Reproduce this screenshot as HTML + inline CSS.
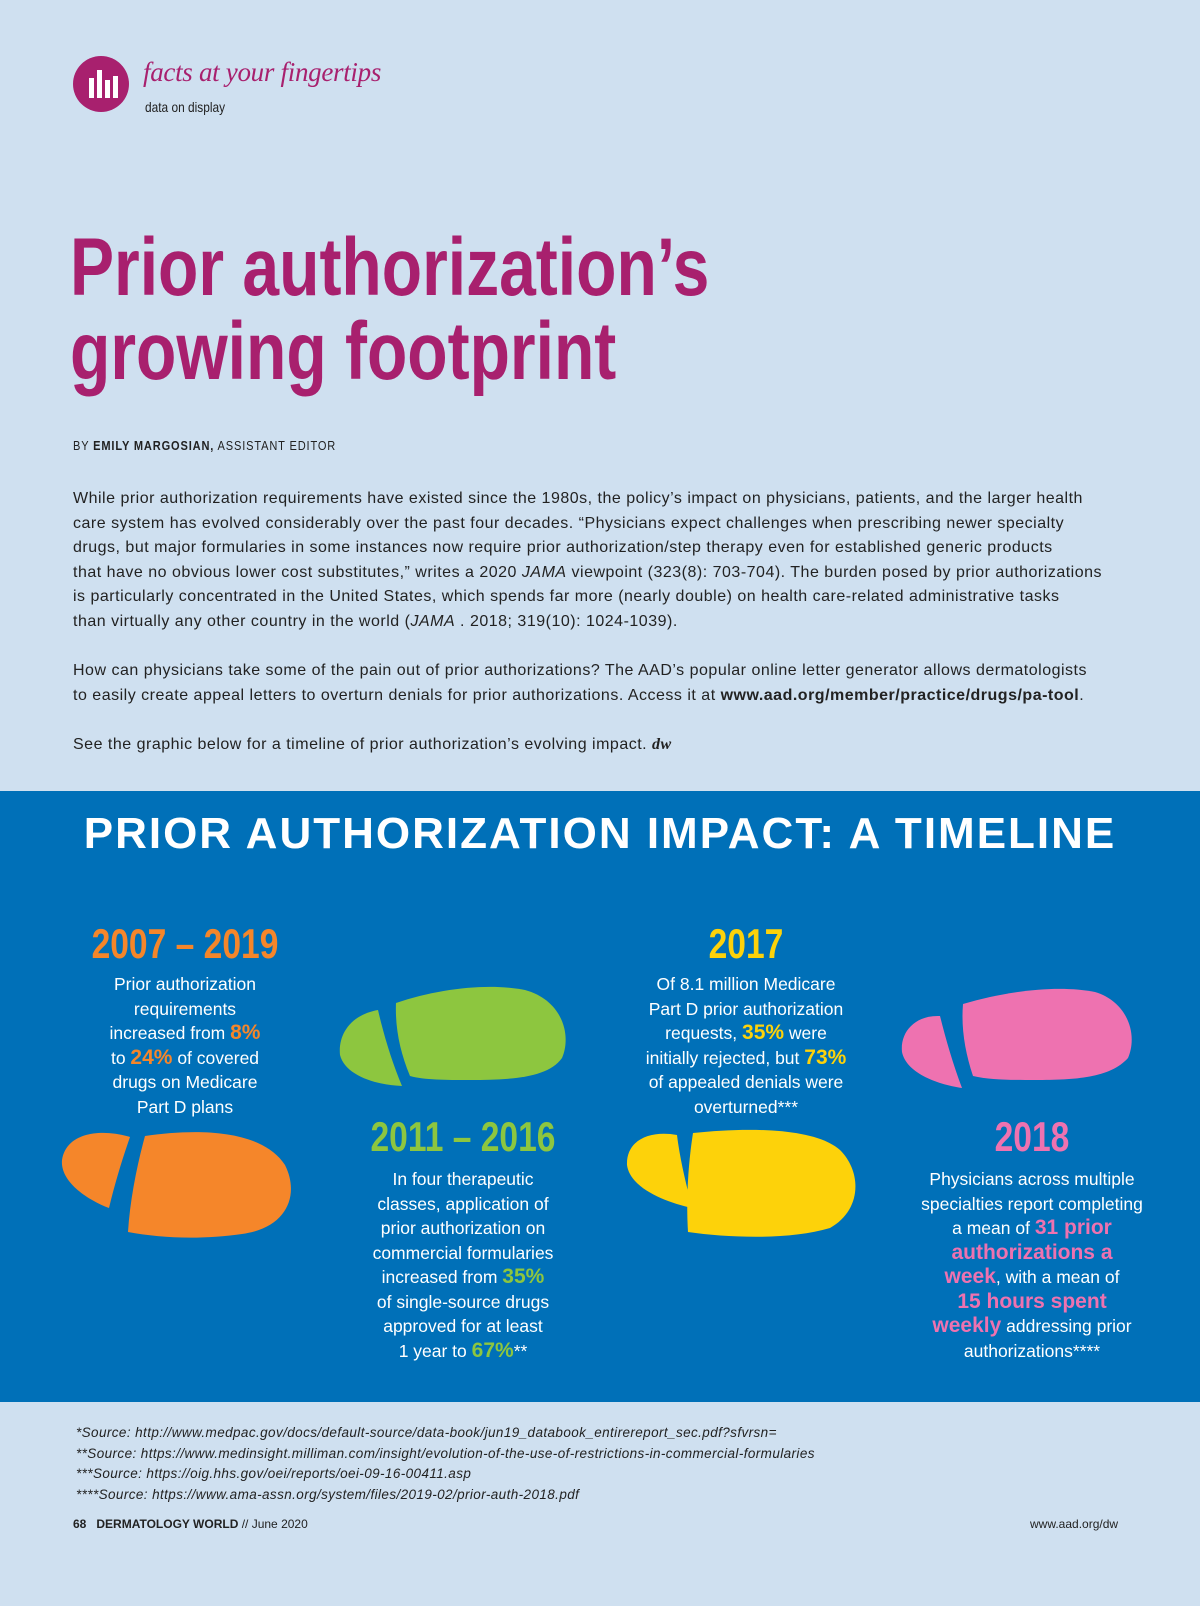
<!DOCTYPE html>
<html><head><meta charset="utf-8"><style>
body{margin:0;width:1200px;height:1606px;background:#cfe0f0;font-family:"Liberation Sans",sans-serif;position:relative;overflow:hidden}
.a{position:absolute}
.nar{transform-origin:0 0}
.body{left:73px;font-size:16px;letter-spacing:0.5px;line-height:24.5px;color:#222;white-space:nowrap}
.band{left:0;top:791px;width:1200px;height:611px;background:#0070b8}
.yr{font-weight:bold;font-size:42px;text-align:center;transform:scaleX(0.8)}
.tx{color:#fff;font-size:17.5px;line-height:24.5px;text-align:center;white-space:nowrap}
.o{color:#f5862a;font-weight:bold;font-size:21px}.g{color:#8dc63f;font-weight:bold;font-size:21px}
.y{color:#fdd20a;font-weight:bold;font-size:21px}.p{color:#ee72b0;font-weight:bold;font-size:21px}
.src{left:76px;font-size:13.5px;font-style:italic;color:#222;line-height:20.5px;letter-spacing:.4px}
</style></head><body>
<svg class="a" style="left:73px;top:56px" width="56" height="56"><circle cx="28" cy="28" r="28" fill="#a8206e"/><rect x="16" y="22" width="5" height="20" fill="#fff"/><rect x="24" y="14" width="5" height="28" fill="#fff"/><rect x="32" y="24" width="5" height="18" fill="#fff"/><rect x="40" y="20" width="5" height="22" fill="#fff"/></svg>
<div class="a" style="left:143px;top:57px;font-family:'Liberation Serif',serif;font-style:italic;font-size:27px;color:#a8206e;letter-spacing:-0.3px">facts at your fingertips</div>
<div class="a nar" style="left:145px;top:99px;font-size:14px;color:#222;transform:scaleX(0.85)">data on display</div>
<div class="a nar" style="left:70px;top:226px;font-size:82px;line-height:84px;font-weight:bold;color:#a8206e;transform:scaleX(0.805);white-space:nowrap">Prior authorization’s<br>growing footprint</div>
<div class="a nar" style="left:73px;top:438px;font-size:13px;letter-spacing:1px;color:#222;transform:scaleX(0.85);white-space:nowrap">BY <b>EMILY MARGOSIAN,</b> ASSISTANT EDITOR</div>
<div class="a body" style="top:487px">While prior authorization requirements have existed since the 1980s, the policy’s impact on physicians, patients, and the larger health<br>care system has evolved considerably over the past four decades. “Physicians expect challenges when prescribing newer specialty<br>drugs, but major formularies in some instances now require prior authorization/step therapy even for established generic products<br>that have no obvious lower cost substitutes,” writes a 2020 <i>JAMA</i> viewpoint (323(8): 703-704). The burden posed by prior authorizations<br>is particularly concentrated in the United States, which spends far more (nearly double) on health care-related administrative tasks<br>than virtually any other country in the world (<i>JAMA</i> . 2018; 319(10): 1024-1039).</div>
<div class="a body" style="top:659px">How can physicians take some of the pain out of prior authorizations? The AAD’s popular online letter generator allows dermatologists<br>to easily create appeal letters to overturn denials for prior authorizations. Access it at <b>www.aad.org/member/practice/drugs/pa-tool</b>.</div>
<div class="a body" style="top:733px">See the graphic below for a timeline of prior authorization’s evolving impact. <b><i style="font-family:'Liberation Serif',serif">dw</i></b></div>
<div class="a band"></div>
<div class="a" style="left:0;width:1200px;top:809px;text-align:center;color:#fff;font-size:44px;font-weight:bold;letter-spacing:2px">PRIOR AUTHORIZATION IMPACT: A TIMELINE</div>
<svg class="a" style="left:0;top:0" width="1200" height="1400">
<g fill="#f5862a"><path d="M130 1137 C100 1128 66 1133 62 1160 C60 1182 88 1200 109 1208 C115 1183 122 1160 130 1137Z"/><path d="M145 1136 C200 1128 262 1130 285 1165 C300 1195 287 1228 242 1234 C200 1240 160 1238 128 1232 C130 1200 137 1165 145 1136Z"/></g>
<g fill="#8dc63f"><path d="M378 1010 C350 1015 338 1035 340 1055 C345 1075 375 1085 402 1086 C392 1062 384 1036 378 1010Z"/><path d="M396 1003 C440 988 490 983 525 990 C562 1000 572 1035 562 1058 C548 1078 510 1080 470 1080 C445 1080 425 1080 410 1076 C400 1052 395 1028 396 1003Z"/></g>
<g fill="#fdd20a"><path d="M677 1135 C650 1130 626 1140 627 1165 C630 1188 665 1202 692 1208 C686 1183 680 1160 677 1135Z"/><path d="M693 1133 C750 1127 815 1128 840 1150 C862 1172 862 1210 830 1228 C790 1240 730 1238 688 1232 C686 1200 688 1165 693 1133Z"/></g>
<g fill="#ee72b0"><path d="M940 1016 C915 1015 900 1032 902 1052 C906 1072 935 1084 962 1088 C953 1064 946 1040 940 1016Z"/><path d="M963 1004 C1010 990 1060 985 1095 992 C1128 1002 1138 1035 1128 1058 C1110 1078 1075 1080 1035 1080 C1010 1080 990 1080 973 1076 C965 1052 961 1028 963 1004Z"/></g>
</svg>
<div class="a yr" style="left:65px;width:240px;top:920px;color:#f5862a">2007 – 2019</div>
<div class="a tx" style="left:85px;width:200px;top:972px">Prior authorization<br>requirements<br>increased from <span class="o">8%</span><br>to <span class="o">24%</span> of covered<br>drugs on Medicare<br>Part D plans</div>
<div class="a yr" style="left:343px;width:240px;top:1113px;color:#8dc63f">2011 – 2016</div>
<div class="a tx" style="left:363px;width:200px;top:1167px">In four therapeutic<br>classes, application of<br>prior authorization on<br>commercial formularies<br>increased from <span class="g">35%</span><br>of single-source drugs<br>approved for at least<br>1 year to <span class="g">67%</span>**</div>
<div class="a yr" style="left:626px;width:240px;top:920px;color:#fdd20a">2017</div>
<div class="a tx" style="left:631px;width:230px;top:972px">Of 8.1 million Medicare<br>Part D prior authorization<br>requests, <span class="y">35%</span> were<br>initially rejected, but <span class="y">73%</span><br>of appealed denials were<br>overturned***</div>
<div class="a yr" style="left:912px;width:240px;top:1113px;color:#ee72b0">2018</div>
<div class="a tx" style="left:912px;width:240px;top:1167px">Physicians across multiple<br>specialties report completing<br>a mean of <span class="p">31 prior</span><br><span class="p">authorizations a</span><br><span class="p">week</span>, with a mean of<br><span class="p">15 hours spent</span><br><span class="p">weekly</span> addressing prior<br>authorizations****</div>
<div class="a src" style="top:1423px">*Source: http://www.medpac.gov/docs/default-source/data-book/jun19_databook_entirereport_sec.pdf?sfvrsn=<br>**Source: https://www.medinsight.milliman.com/insight/evolution-of-the-use-of-restrictions-in-commercial-formularies<br>***Source: https://oig.hhs.gov/oei/reports/oei-09-16-00411.asp<br>****Source: https://www.ama-assn.org/system/files/2019-02/prior-auth-2018.pdf</div>
<div class="a" style="left:73px;top:1517px;font-size:12px;color:#222"><b>68</b> &nbsp; <b>DERMATOLOGY WORLD</b> // June 2020</div>
<div class="a" style="left:1030px;top:1517px;font-size:12px;color:#222">www.aad.org/dw</div>
</body></html>
